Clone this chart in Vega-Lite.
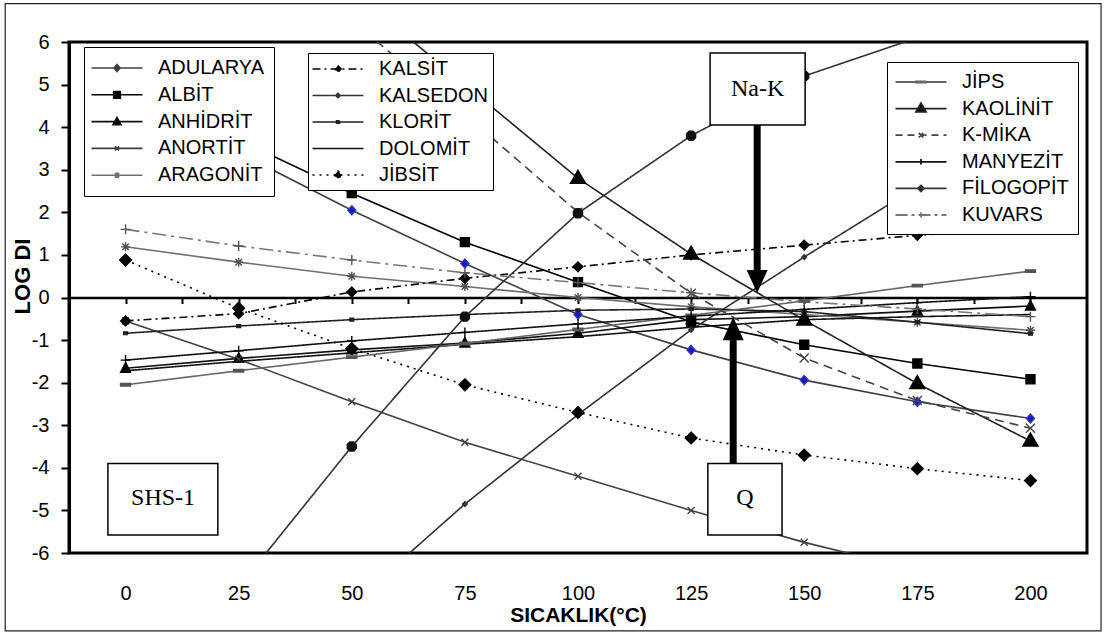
{
  "$schema": "https://vega.github.io/schema/vega-lite/v6.json",
  "width": 1018,
  "height": 511,
  "autosize": "none",
  "padding": {"left": 69, "top": 42, "right": 18, "bottom": 81},
  "background": "white",
  "config": {
    "view": {"stroke": "#000", "strokeWidth": 3},
    "axis": {"grid": false},
    "legend": {"title": null}
  },
  "datasets": {
    "grpA": [
      {"series": "ADULARYA", "T": 0, "logDI": 4.8}, {"series": "ADULARYA", "T": 25, "logDI": 3.4}, {"series": "ADULARYA", "T": 50, "logDI": 2.05}, {"series": "ADULARYA", "T": 75, "logDI": 0.8}, {"series": "ADULARYA", "T": 100, "logDI": -0.4}, {"series": "ADULARYA", "T": 125, "logDI": -1.23}, {"series": "ADULARYA", "T": 150, "logDI": -1.94}, {"series": "ADULARYA", "T": 175, "logDI": -2.45}, {"series": "ADULARYA", "T": 200, "logDI": -2.84},
      {"series": "ALBİT", "T": 0, "logDI": 5.0}, {"series": "ALBİT", "T": 25, "logDI": 3.7}, {"series": "ALBİT", "T": 50, "logDI": 2.45}, {"series": "ALBİT", "T": 75, "logDI": 1.3}, {"series": "ALBİT", "T": 100, "logDI": 0.36}, {"series": "ALBİT", "T": 125, "logDI": -0.57}, {"series": "ALBİT", "T": 150, "logDI": -1.11}, {"series": "ALBİT", "T": 175, "logDI": -1.55}, {"series": "ALBİT", "T": 200, "logDI": -1.92},
      {"series": "ANHİDRİT", "T": 0, "logDI": -1.66}, {"series": "ANHİDRİT", "T": 25, "logDI": -1.43}, {"series": "ANHİDRİT", "T": 50, "logDI": -1.23}, {"series": "ANHİDRİT", "T": 75, "logDI": -1.07}, {"series": "ANHİDRİT", "T": 100, "logDI": -0.84}, {"series": "ANHİDRİT", "T": 125, "logDI": -0.52}, {"series": "ANHİDRİT", "T": 150, "logDI": -0.45}, {"series": "ANHİDRİT", "T": 175, "logDI": -0.32}, {"series": "ANHİDRİT", "T": 200, "logDI": -0.2},
      {"series": "ANORTİT", "T": 0, "logDI": -0.55}, {"series": "ANORTİT", "T": 25, "logDI": -1.45}, {"series": "ANORTİT", "T": 50, "logDI": -2.45}, {"series": "ANORTİT", "T": 75, "logDI": -3.4}, {"series": "ANORTİT", "T": 100, "logDI": -4.2}, {"series": "ANORTİT", "T": 125, "logDI": -5.0}, {"series": "ANORTİT", "T": 150, "logDI": -5.75}, {"series": "ANORTİT", "T": 175, "logDI": -6.4}, {"series": "ANORTİT", "T": 200, "logDI": -7.0},
      {"series": "ARAGONİT", "T": 0, "logDI": 1.19}, {"series": "ARAGONİT", "T": 25, "logDI": 0.83}, {"series": "ARAGONİT", "T": 50, "logDI": 0.5}, {"series": "ARAGONİT", "T": 75, "logDI": 0.26}, {"series": "ARAGONİT", "T": 100, "logDI": 0.0}, {"series": "ARAGONİT", "T": 125, "logDI": -0.22}, {"series": "ARAGONİT", "T": 150, "logDI": -0.4}, {"series": "ARAGONİT", "T": 175, "logDI": -0.58}, {"series": "ARAGONİT", "T": 200, "logDI": -0.77}
    ],
    "grpB": [
      {"series": "KALSİT", "T": 0, "logDI": -0.55}, {"series": "KALSİT", "T": 25, "logDI": -0.38}, {"series": "KALSİT", "T": 50, "logDI": 0.13}, {"series": "KALSİT", "T": 75, "logDI": 0.45}, {"series": "KALSİT", "T": 100, "logDI": 0.72}, {"series": "KALSİT", "T": 125, "logDI": 1.0}, {"series": "KALSİT", "T": 150, "logDI": 1.23}, {"series": "KALSİT", "T": 175, "logDI": 1.46}, {"series": "KALSİT", "T": 200, "logDI": 1.62},
      {"series": "KALSEDON", "T": 0, "logDI": -12}, {"series": "KALSEDON", "T": 25, "logDI": -9.6}, {"series": "KALSEDON", "T": 50, "logDI": -7.2}, {"series": "KALSEDON", "T": 75, "logDI": -4.85}, {"series": "KALSEDON", "T": 100, "logDI": -2.75}, {"series": "KALSEDON", "T": 125, "logDI": -0.76}, {"series": "KALSEDON", "T": 150, "logDI": 0.95}, {"series": "KALSEDON", "T": 175, "logDI": 2.6}, {"series": "KALSEDON", "T": 200, "logDI": 4.1},
      {"series": "KLORİT", "T": 0, "logDI": -0.84}, {"series": "KLORİT", "T": 25, "logDI": -0.67}, {"series": "KLORİT", "T": 50, "logDI": -0.52}, {"series": "KLORİT", "T": 75, "logDI": -0.4}, {"series": "KLORİT", "T": 100, "logDI": -0.3}, {"series": "KLORİT", "T": 125, "logDI": -0.27}, {"series": "KLORİT", "T": 150, "logDI": -0.33}, {"series": "KLORİT", "T": 175, "logDI": -0.58}, {"series": "KLORİT", "T": 200, "logDI": -0.85},
      {"series": "DOLOMİT", "T": 0, "logDI": -1.72}, {"series": "DOLOMİT", "T": 25, "logDI": -1.5}, {"series": "DOLOMİT", "T": 50, "logDI": -1.3}, {"series": "DOLOMİT", "T": 75, "logDI": -1.1}, {"series": "DOLOMİT", "T": 100, "logDI": -0.92}, {"series": "DOLOMİT", "T": 125, "logDI": -0.7}, {"series": "DOLOMİT", "T": 150, "logDI": -0.52}, {"series": "DOLOMİT", "T": 175, "logDI": -0.45}, {"series": "DOLOMİT", "T": 200, "logDI": -0.4},
      {"series": "JİBSİT", "T": 0, "logDI": 0.88}, {"series": "JİBSİT", "T": 25, "logDI": -0.25}, {"series": "JİBSİT", "T": 50, "logDI": -1.2}, {"series": "JİBSİT", "T": 75, "logDI": -2.05}, {"series": "JİBSİT", "T": 100, "logDI": -2.7}, {"series": "JİBSİT", "T": 125, "logDI": -3.3}, {"series": "JİBSİT", "T": 150, "logDI": -3.7}, {"series": "JİBSİT", "T": 175, "logDI": -4.02}, {"series": "JİBSİT", "T": 200, "logDI": -4.3}
    ],
    "grpC": [
      {"series": "JİPS", "T": 0, "logDI": -2.05}, {"series": "JİPS", "T": 25, "logDI": -1.72}, {"series": "JİPS", "T": 50, "logDI": -1.4}, {"series": "JİPS", "T": 75, "logDI": -1.08}, {"series": "JİPS", "T": 100, "logDI": -0.75}, {"series": "JİPS", "T": 125, "logDI": -0.42}, {"series": "JİPS", "T": 150, "logDI": -0.08}, {"series": "JİPS", "T": 175, "logDI": 0.28}, {"series": "JİPS", "T": 200, "logDI": 0.62},
      {"series": "KAOLİNİT", "T": 0, "logDI": 11.2}, {"series": "KAOLİNİT", "T": 25, "logDI": 9.3}, {"series": "KAOLİNİT", "T": 50, "logDI": 7.2}, {"series": "KAOLİNİT", "T": 75, "logDI": 5.0}, {"series": "KAOLİNİT", "T": 100, "logDI": 2.8}, {"series": "KAOLİNİT", "T": 125, "logDI": 1.02}, {"series": "KAOLİNİT", "T": 150, "logDI": -0.53}, {"series": "KAOLİNİT", "T": 175, "logDI": -2.02}, {"series": "KAOLİNİT", "T": 200, "logDI": -3.37},
      {"series": "K-MİKA", "T": 0, "logDI": 10.5}, {"series": "K-MİKA", "T": 25, "logDI": 8.6}, {"series": "K-MİKA", "T": 50, "logDI": 6.5}, {"series": "K-MİKA", "T": 75, "logDI": 4.3}, {"series": "K-MİKA", "T": 100, "logDI": 2.0}, {"series": "K-MİKA", "T": 125, "logDI": 0.1}, {"series": "K-MİKA", "T": 150, "logDI": -1.42}, {"series": "K-MİKA", "T": 175, "logDI": -2.42}, {"series": "K-MİKA", "T": 200, "logDI": -3.07},
      {"series": "MANYEZİT", "T": 0, "logDI": -1.47}, {"series": "MANYEZİT", "T": 25, "logDI": -1.25}, {"series": "MANYEZİT", "T": 50, "logDI": -1.02}, {"series": "MANYEZİT", "T": 75, "logDI": -0.82}, {"series": "MANYEZİT", "T": 100, "logDI": -0.62}, {"series": "MANYEZİT", "T": 125, "logDI": -0.44}, {"series": "MANYEZİT", "T": 150, "logDI": -0.28}, {"series": "MANYEZİT", "T": 175, "logDI": -0.12}, {"series": "MANYEZİT", "T": 200, "logDI": 0.02},
      {"series": "FİLOGOPİT", "T": 0, "logDI": -10}, {"series": "FİLOGOPİT", "T": 25, "logDI": -6.8}, {"series": "FİLOGOPİT", "T": 50, "logDI": -3.5}, {"series": "FİLOGOPİT", "T": 75, "logDI": -0.45}, {"series": "FİLOGOPİT", "T": 100, "logDI": 1.98}, {"series": "FİLOGOPİT", "T": 125, "logDI": 3.8}, {"series": "FİLOGOPİT", "T": 150, "logDI": 5.2}, {"series": "FİLOGOPİT", "T": 175, "logDI": 6.1}, {"series": "FİLOGOPİT", "T": 200, "logDI": 6.8},
      {"series": "KUVARS", "T": 0, "logDI": 1.6}, {"series": "KUVARS", "T": 25, "logDI": 1.21}, {"series": "KUVARS", "T": 50, "logDI": 0.88}, {"series": "KUVARS", "T": 75, "logDI": 0.58}, {"series": "KUVARS", "T": 100, "logDI": 0.35}, {"series": "KUVARS", "T": 125, "logDI": 0.11}, {"series": "KUVARS", "T": 150, "logDI": -0.1}, {"series": "KUVARS", "T": 175, "logDI": -0.27}, {"series": "KUVARS", "T": 200, "logDI": -0.45}
    ],
    "boxes": [
      {"label": "Na-K", "x1": 129.2, "x2": 150.2, "y1": 5.74, "y2": 4.05, "tx": 139.7, "ty": 4.9},
      {"label": "Q", "x1": 128.7, "x2": 145.1, "y1": -3.9, "y2": -5.58, "tx": 136.9, "ty": -4.72},
      {"label": "SHS-1", "x1": -3.9, "x2": 20.4, "y1": -3.9, "y2": -5.58, "tx": 8.3, "ty": -4.72}
    ],
    "frame": [
      {"x1": -26.6, "x2": 215.6, "y1": 6.9, "y2": -7.83}
    ],
    "shafts": [
      {"T": 139.6, "y1": 4.05, "y2": 0.6},
      {"T": 134.3, "y1": -1.0, "y2": -3.9}
    ],
    "heads": [
      {"T": 139.6, "v": 0.106, "dir": "down"},
      {"T": 134.3, "v": -0.46, "dir": "up"}
    ]
  },
  "layer": [
    {
      "data": {"name": "frame"},
      "mark": {"type": "rect", "fill": null, "fillOpacity": 0, "stroke": "#222", "strokeWidth": 1.2, "clip": false},
      "encoding": {
        "x": {"field": "x1", "type": "quantitative", "scale": {"domain": [-12.5, 212.5], "nice": false, "zero": false}, "axis": null},
        "x2": {"field": "x2"},
        "y": {"field": "y1", "type": "quantitative", "scale": {"domain": [-6, 6], "nice": false, "zero": false}, "axis": null},
        "y2": {"field": "y2"}
      }
    },
    {
      "data": {"name": "grpA"},
      "mark": {"type": "line", "strokeWidth": 1.6, "clip": true},
      "encoding": {
        "x": {"field": "T", "type": "quantitative", "scale": {"domain": [-12.5, 212.5], "nice": false, "zero": false},
          "axis": {"orient": "bottom", "values": [0, 25, 50, 75, 100, 125, 150, 175, 200], "title": "SICAKLIK(°C)", "domain": false, "ticks": false, "labelPadding": 30, "labelFont": "Liberation Sans", "labelFontSize": 20, "labelColor": "#000", "titleFont": "Liberation Sans", "titleFontSize": 21, "titleFontWeight": "bold", "titleColor": "#000", "titlePadding": 1}},
        "y": {"field": "logDI", "type": "quantitative", "scale": {"domain": [-6, 6], "nice": false, "zero": false},
          "axis": {"orient": "left", "values": [-6, -5, -4, -3, -2, -1, 0, 1, 2, 3, 4, 5, 6], "labelExpr": "'' + datum.value", "title": "LOG DI", "titleFont": "Liberation Sans", "titleFontSize": 22, "titleFontWeight": "bold", "titleColor": "#000", "titleX": -47, "titleY": 234, "titleBaseline": "middle", "titleAlign": "center", "titleAngle": -90, "labelFont": "Liberation Sans", "labelFontSize": 20, "labelColor": "#000", "labelPadding": 12, "tickSize": 8, "tickWidth": 2, "tickColor": "#000", "domainColor": "#000", "domainWidth": 3}},
        "color": {"field": "series", "type": "nominal", "legend": null,
          "scale": {"domain": ["ADULARYA", "ALBİT", "ANHİDRİT", "ANORTİT", "ARAGONİT"], "range": ["#404040", "#000000", "#111111", "#404040", "#707070"]}}
      }
    },
    {
      "data": {"name": "grpA"},
      "mark": {"type": "point", "filled": true, "size": 100, "strokeWidth": 1.4, "clip": true, "opacity": 1},
      "encoding": {
        "x": {"field": "T", "type": "quantitative", "scale": {"domain": [-12.5, 212.5], "nice": false, "zero": false}, "axis": null},
        "y": {"field": "logDI", "type": "quantitative", "scale": {"domain": [-6, 6], "nice": false, "zero": false}, "axis": null},
        "shape": {"field": "series", "type": "nominal", "legend": null, "scale": {"domain": ["ADULARYA", "ALBİT", "ANHİDRİT", "ANORTİT", "ARAGONİT"], "range": ["M0,-0.9L0.8,0L0,0.9L-0.8,0Z", "M-0.9,-0.9H0.9V0.9H-0.9Z", "M0,-1.1L1,0.8H-1Z", "M-0.7,-0.7L0.7,0.7M-0.7,0.7L0.7,-0.7", "M-0.9,0H0.9M0,-0.9V0.9M-0.65,-0.65L0.65,0.65M-0.65,0.65L0.65,-0.65"]}},
        "fill": {"field": "series", "type": "nominal", "legend": null, "scale": {"domain": ["ADULARYA", "ALBİT", "ANHİDRİT", "ANORTİT", "ARAGONİT"], "range": ["#1a1ab0", "#000000", "#000000", "#404040", "#606060"]}},
        "stroke": {"field": "series", "type": "nominal", "legend": null, "scale": {"domain": ["ADULARYA", "ALBİT", "ANHİDRİT", "ANORTİT", "ARAGONİT"], "range": ["#3030d0", "#000000", "#000000", "#404040", "#505050"]}}
      }
    },
    {
      "data": {"name": "grpA"},
      "mark": {"type": "point", "filled": true, "opacity": 0, "size": 400},
      "encoding": {
        "x": {"field": "T", "type": "quantitative", "scale": {"domain": [-12.5, 212.5], "nice": false, "zero": false}, "axis": null},
        "y": {"field": "logDI", "type": "quantitative", "scale": {"domain": [-6, 6], "nice": false, "zero": false}, "axis": null},
        "shape": {"field": "series", "type": "nominal",
          "scale": {"domain": ["ADULARYA", "ALBİT", "ANHİDRİT", "ANORTİT", "ARAGONİT"], "range": ["M-2.55,0H2.55M0,-0.35L0.3,0L0,0.35L-0.3,0Z", "M-2.55,0H2.55M-0.33,-0.33H0.33V0.33H-0.33Z", "M-2.55,0H2.55M0,-0.42L0.4,0.3H-0.4Z", "M-2.55,0H2.55M-0.2,-0.2L0.2,0.2M-0.2,0.2L0.2,-0.2", "M-2.55,0H2.55M-0.3,0H0.3M0,-0.3V0.3M-0.22,-0.22L0.22,0.22M-0.22,0.22L0.22,-0.22"]},
          "legend": {"title": null, "orient": "none", "legendX": 15, "legendY": 5, "padding": 10, "symbolSize": 400, "symbolOffset": 12, "labelOffset": 30, "rowPadding": 5.8, "symbolOpacity": 1, "symbolStrokeWidth": 1.6, "labelFont": "Liberation Sans", "labelFontSize": 20, "labelColor": "#000", "labelLimit": 400, "strokeColor": "#000", "fillColor": "#fff"}},
        "fill": {"field": "series", "type": "nominal",
          "scale": {"domain": ["ADULARYA", "ALBİT", "ANHİDRİT", "ANORTİT", "ARAGONİT"], "range": ["#2020b0", "#000000", "#000000", "#404040", "#707070"]},
          "legend": {"title": null, "orient": "none", "legendX": 15, "legendY": 5, "padding": 10, "symbolSize": 400, "symbolOffset": 12, "labelOffset": 30, "rowPadding": 5.8, "symbolOpacity": 1, "symbolStrokeWidth": 1.6, "labelFont": "Liberation Sans", "labelFontSize": 20, "labelColor": "#000", "labelLimit": 400, "strokeColor": "#000", "fillColor": "#fff"}},
        "stroke": {"field": "series", "type": "nominal",
          "scale": {"domain": ["ADULARYA", "ALBİT", "ANHİDRİT", "ANORTİT", "ARAGONİT"], "range": ["#404040", "#000000", "#111111", "#404040", "#707070"]},
          "legend": {"title": null, "orient": "none", "legendX": 15, "legendY": 5, "padding": 10, "symbolSize": 400, "symbolOffset": 12, "labelOffset": 30, "rowPadding": 5.8, "symbolOpacity": 1, "symbolStrokeWidth": 1.6, "labelFont": "Liberation Sans", "labelFontSize": 20, "labelColor": "#000", "labelLimit": 400, "strokeColor": "#000", "fillColor": "#fff"}}
      }
    },
    {
      "data": {"name": "grpB"},
      "mark": {"type": "line", "strokeWidth": 1.6, "clip": true},
      "encoding": {
        "x": {"field": "T", "type": "quantitative", "scale": {"domain": [-12.5, 212.5], "nice": false, "zero": false},
          "axis": {"orient": "bottom", "offset": -255.5, "values": [0, 12.5, 25, 37.5, 50, 62.5, 75, 87.5, 100, 112.5, 125, 137.5, 150, 162.5, 175, 187.5, 200], "labels": false, "title": null, "domain": true, "domainColor": "#000", "domainWidth": 2.5, "ticks": true, "tickSize": 6, "tickWidth": 2, "tickColor": "#000"}},
        "y": {"field": "logDI", "type": "quantitative", "scale": {"domain": [-6, 6], "nice": false, "zero": false}, "axis": null},
        "color": {"field": "series", "type": "nominal", "legend": null,
          "scale": {"domain": ["KALSİT", "KALSEDON", "KLORİT", "DOLOMİT", "JİBSİT"], "range": ["#000000", "#333333", "#222222", "#111111", "#000000"]}},
        "strokeDash": {"field": "series", "type": "nominal", "legend": null, "scale": {"domain": ["KALSİT", "KALSEDON", "KLORİT", "DOLOMİT", "JİBSİT"], "range": [[8, 4, 2, 4], [1, 0], [1, 0], [1, 0], [2, 5]]}}
      }
    },
    {
      "data": {"name": "grpB"},
      "mark": {"type": "point", "filled": true, "size": 100, "strokeWidth": 1.2, "clip": true, "opacity": 1},
      "encoding": {
        "x": {"field": "T", "type": "quantitative", "scale": {"domain": [-12.5, 212.5], "nice": false, "zero": false}, "axis": null},
        "y": {"field": "logDI", "type": "quantitative", "scale": {"domain": [-6, 6], "nice": false, "zero": false}, "axis": null},
        "shape": {"field": "series", "type": "nominal", "legend": null, "scale": {"domain": ["KALSİT", "KALSEDON", "KLORİT", "DOLOMİT", "JİBSİT"], "range": ["M0,-1L1,0L0,1L-1,0Z", "M0,-0.5L0.5,0L0,0.5L-0.5,0Z", "M-0.4,-0.3H0.4V0.3H-0.4Z", "M0,0", "M0,-1.2L1.2,0L0,1.2L-1.2,0Z"]}},
        "fill": {"field": "series", "type": "nominal", "legend": null, "scale": {"domain": ["KALSİT", "KALSEDON", "KLORİT", "DOLOMİT", "JİBSİT"], "range": ["#000000", "#333333", "#222222", "#111111", "#000000"]}},
        "stroke": {"field": "series", "type": "nominal", "legend": null, "scale": {"domain": ["KALSİT", "KALSEDON", "KLORİT", "DOLOMİT", "JİBSİT"], "range": ["#000000", "#333333", "#222222", "#111111", "#000000"]}}
      }
    },
    {
      "data": {"name": "grpB"},
      "mark": {"type": "point", "filled": true, "opacity": 0, "size": 400},
      "encoding": {
        "x": {"field": "T", "type": "quantitative", "scale": {"domain": [-12.5, 212.5], "nice": false, "zero": false}, "axis": null},
        "y": {"field": "logDI", "type": "quantitative", "scale": {"domain": [-6, 6], "nice": false, "zero": false}, "axis": null},
        "shape": {"field": "series", "type": "nominal",
          "scale": {"domain": ["KALSİT", "KALSEDON", "KLORİT", "DOLOMİT", "JİBSİT"], "range": ["M-2.55,0H2.55M0,-0.32L0.32,0L0,0.32L-0.32,0Z", "M-2.55,0H2.55M0,-0.22L0.22,0L0,0.22L-0.22,0Z", "M-2.55,0H2.55M-0.15,-0.12H0.15V0.12H-0.15Z", "M-2.55,0H2.55", "M-2.55,0H2.55M0,-0.38L0.38,0L0,0.38L-0.38,0Z"]},
          "legend": {"title": null, "orient": "none", "legendX": 239, "legendY": 11, "padding": 5, "symbolSize": 400, "symbolOffset": 14, "labelOffset": 30, "rowPadding": 5.5, "symbolOpacity": 1, "symbolStrokeWidth": 1.6, "labelFont": "Liberation Sans", "labelFontSize": 20, "labelColor": "#000", "labelLimit": 400, "strokeColor": "#000", "fillColor": "#fff"}},
        "fill": {"field": "series", "type": "nominal",
          "scale": {"domain": ["KALSİT", "KALSEDON", "KLORİT", "DOLOMİT", "JİBSİT"], "range": ["#000000", "#333333", "#222222", "#111111", "#000000"]},
          "legend": {"title": null, "orient": "none", "legendX": 239, "legendY": 11, "padding": 5, "symbolSize": 400, "symbolOffset": 14, "labelOffset": 30, "rowPadding": 5.5, "symbolOpacity": 1, "symbolStrokeWidth": 1.6, "labelFont": "Liberation Sans", "labelFontSize": 20, "labelColor": "#000", "labelLimit": 400, "strokeColor": "#000", "fillColor": "#fff"}},
        "stroke": {"field": "series", "type": "nominal",
          "scale": {"domain": ["KALSİT", "KALSEDON", "KLORİT", "DOLOMİT", "JİBSİT"], "range": ["#000000", "#333333", "#222222", "#111111", "#000000"]},
          "legend": {"title": null, "orient": "none", "legendX": 239, "legendY": 11, "padding": 5, "symbolSize": 400, "symbolOffset": 14, "labelOffset": 30, "rowPadding": 5.5, "symbolOpacity": 1, "symbolStrokeWidth": 1.6, "labelFont": "Liberation Sans", "labelFontSize": 20, "labelColor": "#000", "labelLimit": 400, "strokeColor": "#000", "fillColor": "#fff"}},
        "strokeDash": {"field": "series", "type": "nominal",
          "scale": {"domain": ["KALSİT", "KALSEDON", "KLORİT", "DOLOMİT", "JİBSİT"], "range": [[8, 4, 2, 4], [1, 0], [1, 0], [1, 0], [2, 5]]},
          "legend": {"title": null, "orient": "none", "legendX": 239, "legendY": 11, "padding": 5, "symbolSize": 400, "symbolOffset": 14, "labelOffset": 30, "rowPadding": 5.5, "symbolOpacity": 1, "symbolStrokeWidth": 1.6, "labelFont": "Liberation Sans", "labelFontSize": 20, "labelColor": "#000", "labelLimit": 400, "strokeColor": "#000", "fillColor": "#fff"}}
      }
    },
    {
      "data": {"name": "grpC"},
      "mark": {"type": "line", "strokeWidth": 1.6, "clip": true},
      "encoding": {
        "x": {"field": "T", "type": "quantitative", "scale": {"domain": [-12.5, 212.5], "nice": false, "zero": false}, "axis": null},
        "y": {"field": "logDI", "type": "quantitative", "scale": {"domain": [-6, 6], "nice": false, "zero": false}, "axis": null},
        "color": {"field": "series", "type": "nominal", "legend": null,
          "scale": {"domain": ["JİPS", "KAOLİNİT", "K-MİKA", "MANYEZİT", "FİLOGOPİT", "KUVARS"], "range": ["#666666", "#222222", "#444444", "#111111", "#333333", "#777777"]}},
        "strokeDash": {"field": "series", "type": "nominal", "legend": null, "scale": {"domain": ["JİPS", "KAOLİNİT", "K-MİKA", "MANYEZİT", "FİLOGOPİT", "KUVARS"], "range": [[1, 0], [1, 0], [9, 6], [1, 0], [1, 0], [14, 5, 3, 5]]}}
      }
    },
    {
      "data": {"name": "grpC"},
      "mark": {"type": "point", "filled": true, "size": 100, "strokeWidth": 1.4, "clip": true, "opacity": 1},
      "encoding": {
        "x": {"field": "T", "type": "quantitative", "scale": {"domain": [-12.5, 212.5], "nice": false, "zero": false}, "axis": null},
        "y": {"field": "logDI", "type": "quantitative", "scale": {"domain": [-6, 6], "nice": false, "zero": false}, "axis": null},
        "shape": {"field": "series", "type": "nominal", "legend": null, "scale": {"domain": ["JİPS", "KAOLİNİT", "K-MİKA", "MANYEZİT", "FİLOGOPİT", "KUVARS"], "range": ["M-1,-0.25H1V0.25H-1Z", "M0,-1.6L1.5,1H-1.5Z", "M-0.9,-0.9L0.9,0.9M-0.9,0.9L0.9,-0.9", "M-1,0H1M0,-1V1", "M-0.4,-0.9H0.4L0.9,-0.4V0.4L0.4,0.9H-0.4L-0.9,0.4V-0.4Z", "M-1,0H1M0,-1V1"]}},
        "fill": {"field": "series", "type": "nominal", "legend": null, "scale": {"domain": ["JİPS", "KAOLİNİT", "K-MİKA", "MANYEZİT", "FİLOGOPİT", "KUVARS"], "range": ["#555555", "#000000", "#444444", "#000000", "#111111", "#555555"]}},
        "stroke": {"field": "series", "type": "nominal", "legend": null, "scale": {"domain": ["JİPS", "KAOLİNİT", "K-MİKA", "MANYEZİT", "FİLOGOPİT", "KUVARS"], "range": ["#555555", "#000000", "#444444", "#000000", "#111111", "#555555"]}}
      }
    },
    {
      "data": {"name": "grpC"},
      "mark": {"type": "point", "filled": true, "opacity": 0, "size": 400},
      "encoding": {
        "x": {"field": "T", "type": "quantitative", "scale": {"domain": [-12.5, 212.5], "nice": false, "zero": false}, "axis": null},
        "y": {"field": "logDI", "type": "quantitative", "scale": {"domain": [-6, 6], "nice": false, "zero": false}, "axis": null},
        "shape": {"field": "series", "type": "nominal",
          "scale": {"domain": ["JİPS", "KAOLİNİT", "K-MİKA", "MANYEZİT", "FİLOGOPİT", "KUVARS"], "range": ["M-2.55,0H2.55M-0.5,-0.07H0.5V0.07H-0.5Z", "M-2.55,0H2.55M0,-0.55L0.5,0.32H-0.5Z", "M-2.55,0H2.55M-0.22,-0.22L0.22,0.22M-0.22,0.22L0.22,-0.22", "M-2.55,0H2.55M0,-0.28V0.28M-0.28,0H0.28", "M-2.55,0H2.55M0,-0.3L0.3,0L0,0.3L-0.3,0Z", "M-2.55,0H2.55M0,-0.25V0.25"]},
          "legend": {"title": null, "orient": "none", "legendX": 818, "legendY": 20, "padding": 9, "symbolSize": 400, "symbolOffset": 14, "labelOffset": 30, "rowPadding": 5.6, "symbolOpacity": 1, "symbolStrokeWidth": 1.8, "labelFont": "Liberation Sans", "labelFontSize": 20, "labelColor": "#000", "labelLimit": 400, "strokeColor": "#000", "fillColor": "#fff"}},
        "fill": {"field": "series", "type": "nominal",
          "scale": {"domain": ["JİPS", "KAOLİNİT", "K-MİKA", "MANYEZİT", "FİLOGOPİT", "KUVARS"], "range": ["#666666", "#000000", "#444444", "#000000", "#000000", "#777777"]},
          "legend": {"title": null, "orient": "none", "legendX": 818, "legendY": 20, "padding": 9, "symbolSize": 400, "symbolOffset": 14, "labelOffset": 30, "rowPadding": 5.6, "symbolOpacity": 1, "symbolStrokeWidth": 1.8, "labelFont": "Liberation Sans", "labelFontSize": 20, "labelColor": "#000", "labelLimit": 400, "strokeColor": "#000", "fillColor": "#fff"}},
        "stroke": {"field": "series", "type": "nominal",
          "scale": {"domain": ["JİPS", "KAOLİNİT", "K-MİKA", "MANYEZİT", "FİLOGOPİT", "KUVARS"], "range": ["#666666", "#222222", "#444444", "#111111", "#333333", "#777777"]},
          "legend": {"title": null, "orient": "none", "legendX": 818, "legendY": 20, "padding": 9, "symbolSize": 400, "symbolOffset": 14, "labelOffset": 30, "rowPadding": 5.6, "symbolOpacity": 1, "symbolStrokeWidth": 1.8, "labelFont": "Liberation Sans", "labelFontSize": 20, "labelColor": "#000", "labelLimit": 400, "strokeColor": "#000", "fillColor": "#fff"}},
        "strokeDash": {"field": "series", "type": "nominal",
          "scale": {"domain": ["JİPS", "KAOLİNİT", "K-MİKA", "MANYEZİT", "FİLOGOPİT", "KUVARS"], "range": [[1, 0], [1, 0], [7, 5], [1, 0], [1, 0], [12, 4, 3, 4]]},
          "legend": {"title": null, "orient": "none", "legendX": 818, "legendY": 20, "padding": 9, "symbolSize": 400, "symbolOffset": 14, "labelOffset": 30, "rowPadding": 5.6, "symbolOpacity": 1, "symbolStrokeWidth": 1.8, "labelFont": "Liberation Sans", "labelFontSize": 20, "labelColor": "#000", "labelLimit": 400, "strokeColor": "#000", "fillColor": "#fff"}}
      }
    },
    {
      "data": {"name": "shafts"},
      "mark": {"type": "rule", "strokeWidth": 7, "color": "#000", "strokeCap": "butt"},
      "encoding": {
        "x": {"field": "T", "type": "quantitative", "scale": {"domain": [-12.5, 212.5], "nice": false, "zero": false}, "axis": null},
        "y": {"field": "y1", "type": "quantitative", "scale": {"domain": [-6, 6], "nice": false, "zero": false}, "axis": null},
        "y2": {"field": "y2"}
      }
    },
    {
      "data": {"name": "heads"},
      "mark": {"type": "point", "filled": true, "size": 441, "opacity": 1, "strokeWidth": 0, "color": "#000"},
      "encoding": {
        "x": {"field": "T", "type": "quantitative", "scale": {"domain": [-12.5, 212.5], "nice": false, "zero": false}, "axis": null},
        "y": {"field": "v", "type": "quantitative", "scale": {"domain": [-6, 6], "nice": false, "zero": false}, "axis": null},
        "shape": {"field": "dir", "type": "nominal", "legend": null, "scale": {"domain": ["down", "up"], "range": ["M-1,-2.2L1,-2.2L0,0Z", "M-1,2.2L1,2.2L0,0Z"]}}
      }
    },
    {
      "data": {"name": "boxes"},
      "mark": {"type": "rect", "fill": "#fff", "stroke": "#000", "strokeWidth": 1.5},
      "encoding": {
        "x": {"field": "x1", "type": "quantitative", "scale": {"domain": [-12.5, 212.5], "nice": false, "zero": false}, "axis": null},
        "x2": {"field": "x2"},
        "y": {"field": "y1", "type": "quantitative", "scale": {"domain": [-6, 6], "nice": false, "zero": false}, "axis": null},
        "y2": {"field": "y2"}
      }
    },
    {
      "data": {"name": "boxes"},
      "mark": {"type": "text", "font": "Liberation Serif, Times New Roman", "fontSize": 24, "color": "#000", "align": "center", "baseline": "middle"},
      "encoding": {
        "x": {"field": "tx", "type": "quantitative", "scale": {"domain": [-12.5, 212.5], "nice": false, "zero": false}, "axis": null},
        "y": {"field": "ty", "type": "quantitative", "scale": {"domain": [-6, 6], "nice": false, "zero": false}, "axis": null},
        "text": {"field": "label"}
      }
    }
  ],
  "resolve": {
    "scale": {"color": "independent", "fill": "independent", "stroke": "independent", "shape": "independent", "strokeDash": "independent"},
    "axis": {"x": "independent", "y": "independent"}
  }
}
